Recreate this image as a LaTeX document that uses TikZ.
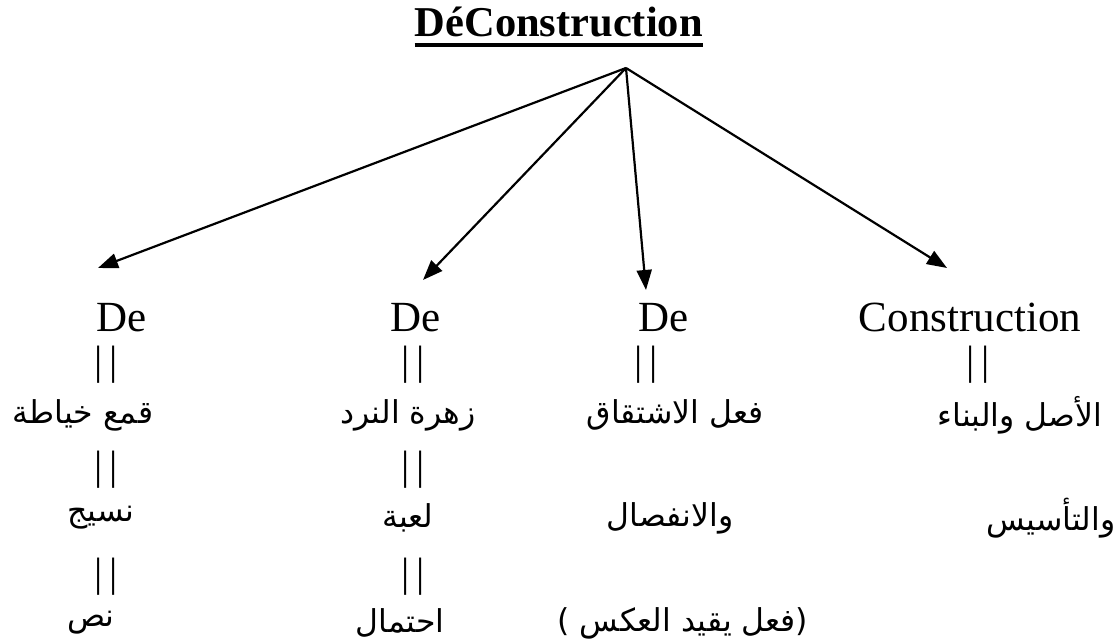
\documentclass[tikz,border=0pt]{standalone}
\usepackage{fontspec}
\setmainfont{Liberation Serif}
\newfontfamily\arabicfont[Script=Arabic]{DejaVu Sans}
\TeXXeTstate=1
\usetikzlibrary{arrows.meta}
\begin{document}
\begin{tikzpicture}[x=1pt,y=1pt,
  lat/.style={font=\fontsize{43}{48}\selectfont, inner sep=0, anchor=base},
  ar/.style={font=\arabicfont\fontsize{31.5}{36}\selectfont, inner sep=0},
  bars/.style={font=\fontsize{41}{45}\selectfont, inner sep=0},
  arr/.style={line width=2.2pt, -{Triangle[length=20pt,width=15pt]}}]
\useasboundingbox (0,0) rectangle (1120,644);
% title
\node[font=\fontsize{42.5}{50}\selectfont\bfseries, inner sep=0, anchor=base east] (title) at (703,607) {DéConstruction};
\draw[line width=3.5pt] ([yshift=-8pt]title.base west) -- ([yshift=-8pt]title.base east);
% arrows
\coordinate (apex) at (626,576);
\coordinate (t1) at (98,376);
\coordinate (t2) at (423,364);
\coordinate (t3) at (646,354);
\coordinate (t4) at (947,376);
\draw[arr] (apex) -- (t1);
\draw[arr] (apex) -- (t2);
\draw[arr] (apex) -- (t3);
\draw[arr] (apex) -- (t4);
% latin words
\node[lat] (de1) at (122,312) {De};
\node[lat] (de2) at (416,312) {De};
\node[lat] (de3) at (664,312) {De};
\node[lat] (cons) at (970,312) {Construction};
% bars
\node[bars] (b11) at (106,279) {|\hspace{7pt}|};
\node[bars] (b12) at (106,174) {|\hspace{7pt}|};
\node[bars] (b13) at (106,67) {|\hspace{7pt}|};
\node[bars] (b21) at (413,279) {|\hspace{7pt}|};
\node[bars] (b22) at (413,174) {|\hspace{7pt}|};
\node[bars] (b23) at (413,67) {|\hspace{7pt}|};
\node[bars] (b31) at (646,279) {|\hspace{7pt}|};
\node[bars] (b41) at (978,279) {|\hspace{7pt}|};
% arabic rows
\node[ar] (a11) at (83,229) {\beginR قمع خياطة\endR};
\node[ar] (a12) at (101,126) {\beginR نسيج\endR};
\node[ar] (a13) at (91,21) {\beginR نص\endR};
\node[ar] (a21) at (408,229) {\beginR زهرة النرد\endR};
\node[ar] (a22) at (408,126) {\beginR لعبة\endR};
\node[ar] (a23) at (400,21) {\beginR احتمال\endR};
\node[ar] (a31) at (675,229) {\beginR فعل الاشتقاق\endR};
\node[ar] (a32) at (670,126) {\beginR والانفصال\endR};
\node[ar] (a33) at (683,21) {\beginR (فعل يقيد العكس )\endR};
\node[ar] (a41) at (1020,229) {\beginR الأصل والبناء\endR};
\node[ar] (a42) at (1051,126) {\beginR والتأسيس\endR};
\end{tikzpicture}
\end{document}
